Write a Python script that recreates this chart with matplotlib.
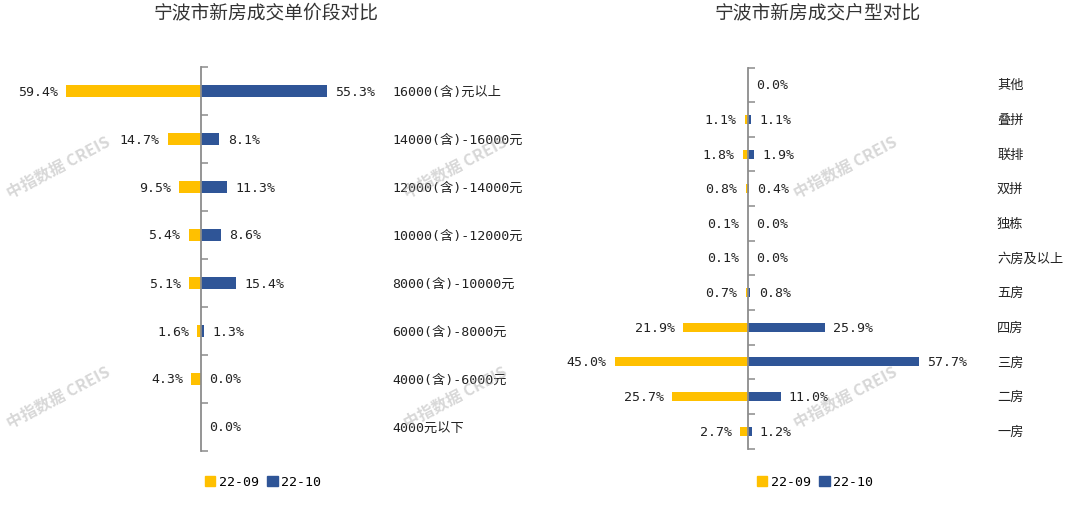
import numpy as np
import matplotlib
matplotlib.use("Agg")
import matplotlib.pyplot as plt
from matplotlib.patches import Patch
from matplotlib.transforms import blended_transform_factory

plt.rcParams['font.family'] = ['DejaVu Sans Mono', 'Noto Sans CJK SC']

# data
price_cats = ["16000(含)元以上", "14000(含)-16000元", "12000(含)-14000元", "10000(含)-12000元",
              "8000(含)-10000元", "6000(含)-8000元", "4000(含)-6000元", "4000元以下"]
price_0922 = [59.4, 14.7, 9.5, 5.4, 5.1, 1.6, 4.3, 0.0]
price_1022 = [55.3, 8.1, 11.3, 8.6, 15.4, 1.3, 0.0, 0.0]

room_cats = ["其他", "叠拼", "联排", "双拼", "独栋", "六房及以上", "五房", "四房", "三房", "二房", "一房"]
room_0922 = [0.0, 1.1, 1.8, 0.8, 0.1, 0.1, 0.7, 21.9, 45.0, 25.7, 2.7]
room_1022 = [0.0, 1.1, 1.9, 0.4, 0.0, 0.0, 0.8, 25.9, 57.7, 11.0, 1.2]

series_names = ["22-09", "22-10"]
titles = ["宁波市新房成交单价段对比", "宁波市新房成交户型对比"]

YELLOW = "#FFC000"
BLUE = "#2F5597"
AXIS = "#8c8c8c"
TXT = "#222222"

W, H = 1080, 506
fig = plt.figure(figsize=(W / 100, H / 100), dpi=100)


def draw_panel(rect, cats, a, b, xlim, label_x, title, title_x, legend_x):
    ax = fig.add_axes(rect)
    n = len(cats)
    y = np.arange(n)
    ax.barh(y, -np.array(a), height=0.26, color=YELLOW, zorder=2)
    ax.barh(y, b, height=0.26, color=BLUE, zorder=2)
    ax.set_xlim(*xlim)
    ax.set_ylim(n - 0.5, -0.5)

    for s in ['top', 'right', 'bottom']:
        ax.spines[s].set_visible(False)
    ax.spines['left'].set_position(('data', 0))
    ax.spines['left'].set_color(AXIS)
    ax.spines['left'].set_linewidth(1.3)
    ax.spines['left'].set_zorder(3)
    ax.set_xticks([])
    ax.set_yticks(np.arange(n + 1) - 0.5)
    ax.tick_params(axis='y', direction='in', length=5, width=1.1, color=AXIS, labelleft=False)

    for i, v in enumerate(a):
        if v > 0:
            ax.annotate(f"{v:.1f}%", xy=(-v, i), xytext=(-6, 0), textcoords='offset points',
                        ha='right', va='center', fontsize=9.5, color=TXT)
    for i, v in enumerate(b):
        ax.annotate(f"{v:.1f}%", xy=(v, i), xytext=(6, 0), textcoords='offset points',
                    ha='left', va='center', fontsize=9.5, color=TXT)

    tr = blended_transform_factory(ax.transAxes, ax.transData)
    for i, c in enumerate(cats):
        ax.text(label_x, i, c, transform=tr, ha='left', va='center', fontsize=9.5, color=TXT)

    fig.text(title_x, 1 - 13 / H, title, ha='center', va='center', fontsize=13.5,
             family='Noto Sans CJK SC', color='#333333')

    handles = [Patch(color=YELLOW), Patch(color=BLUE)]
    fig.legend(handles, series_names, loc='center', bbox_to_anchor=(legend_x, 1 - 483 / H),
               ncol=2, frameon=False, fontsize=9.5, handlelength=0.8, handleheight=0.8,
               handletextpad=0.3, columnspacing=0.6)
    return ax


draw_panel([0, 1 - 452 / H, 0.5, 384 / H], price_cats, price_0922, price_1022,
           (-201 / 2.27, 339 / 2.27), 392 / 540, titles[0], 266 / W, 263 / W)
draw_panel([0.5, 1 - 449.5 / H, 0.5, 381 / H], room_cats, room_0922, room_1022,
           (-208 / 2.96, 332 / 2.96), (997 - 540) / 540, titles[1], 818 / W, 815 / W)

# watermarks
for wx in [58, 455, 845]:
    for wy in [168, 398]:
        fig.text(wx / W, 1 - wy / H, "中指数据 CREIS", ha='center', va='center', rotation=28,
                 fontsize=11.5, family='Noto Sans CJK SC', weight='bold', color='#a8a8a8', alpha=0.45)

fig.savefig("out.png", dpi=100, facecolor='white')
